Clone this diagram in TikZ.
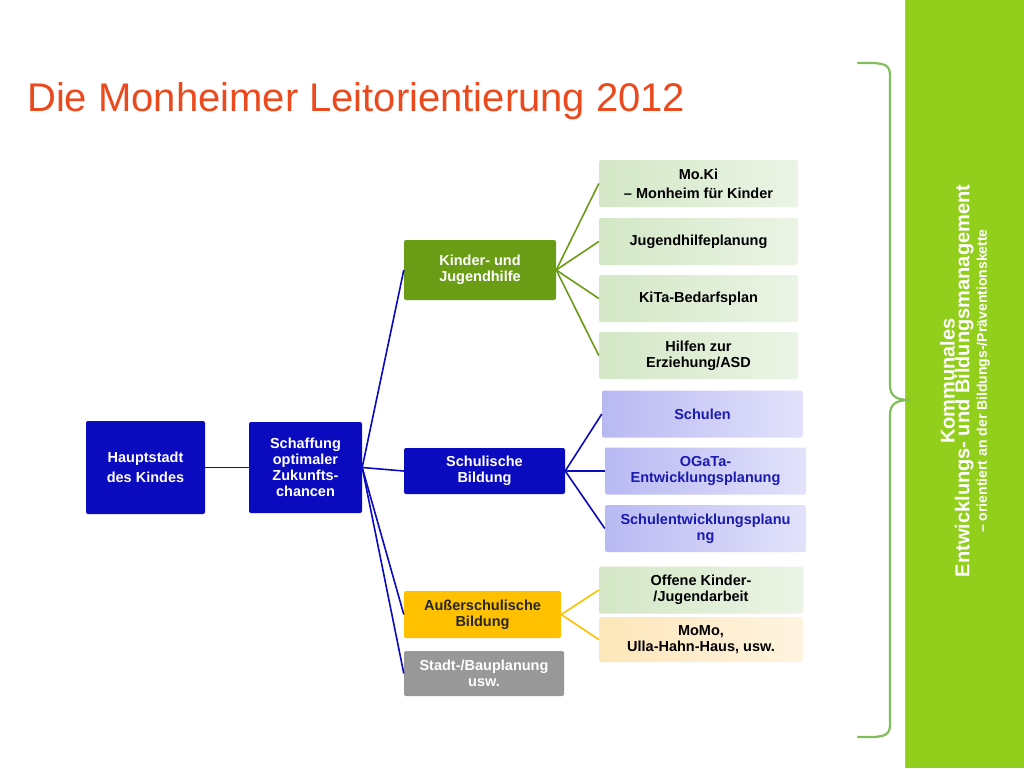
\documentclass[tikz,border=0pt]{standalone}
\usepackage{fontspec}
\setmainfont{Liberation Sans}
\begin{document}
\begin{tikzpicture}[x=1pt,y=-1pt,
  box/.style={rounded corners=2pt,align=center,font=\bfseries\fontsize{14.5}{16}\selectfont,inner sep=1pt},
  dark/.style={box,fill=dblue,text=white},
  gleaf/.style={box,left color=lgreenA,right color=lgreenB,text=black,minimum width=199pt,minimum height=47pt},
  bleaf/.style={box,left color=lblueA,right color=lblueB,text=tblue,minimum width=201pt,minimum height=47pt},
  bl/.style={draw=dblue,line width=1.6pt},
  gl/.style={draw=olive2,line width=1.6pt},
  yl/.style={draw=gold,line width=1.6pt}]
\definecolor{dblue}{HTML}{0A0ABF}
\definecolor{olive2}{HTML}{6A9C15}
\definecolor{gold}{HTML}{FFC000}
\definecolor{lgreenA}{HTML}{D3E7C6}
\definecolor{lgreenB}{HTML}{EBF4E5}
\definecolor{lblueA}{HTML}{B9B9F3}
\definecolor{lblueB}{HTML}{E2E2FB}
\definecolor{tblue}{HTML}{1A1AB0}
\definecolor{panel}{HTML}{92CE1C}
\definecolor{titlec}{HTML}{EA4A1E}
\useasboundingbox (0,0) rectangle (1024,768);
\fill[white] (0,0) rectangle (1024,768);
\fill[panel] (905,0) rectangle (1024,768);
\draw[gray!60,line width=0.6pt] (905,0) -- (905,768);
\node[anchor=west,text=titlec,font=\fontsize{40}{44}\selectfont,inner sep=0pt] (title) at (27,101) {Die Monheimer Leitorientierung 2012};
% brace
\draw[draw=green!50!gray!80!lime,color={rgb,255:red,130;green,190;blue,90},line width=2.2pt,line cap=round]
  (858,63) .. controls (880,63) and (890,62) .. (890,75) -- (890,385)
  .. controls (890,396) and (896,400) .. (910,400)
  .. controls (896,400) and (890,404) .. (890,415) -- (890,725)
  .. controls (890,738) and (880,737) .. (858,737);
\node[rotate=90,text=white,align=center,font=\bfseries,inner sep=0pt] (side) at (965,381)
  {{\fontsize{20}{25}\selectfont Kommunales}\\[-1pt]{\fontsize{20}{27}\selectfont Entwicklungs- und Bildungsmanagement}\\[2pt]{\fontsize{14}{16}\selectfont -- orientiert an der Bildungs-/Präventionskette}};
% main boxes
\node[dark,minimum width=119pt,minimum height=93pt] (haupt) at (145.5,467.5) {Hauptstadt\\[4pt]des Kindes};
\node[dark,minimum width=113pt,minimum height=91pt] (schaff) at (305.5,467.5) {Schaffung\\optimaler\\Zukunfts-\\chancen};
\node[box,fill=olive2,text=white,minimum width=152pt,minimum height=60pt] (kjh) at (480,270) {Kinder- und\\Jugendhilfe};
\node[dark,minimum width=161pt,minimum height=46pt] (schul) at (484.5,471) {Schulische\\Bildung};
\node[box,fill=gold,text=black!85,minimum width=157pt,minimum height=47pt] (aussen) at (482.5,614.5) {Außerschulische\\Bildung};
\node[box,fill=gray!85!black!70,text=white,minimum width=160pt,minimum height=45pt] (stadt) at (484,673.5) {Stadt-/Bauplanung\\usw.};
% leaves
\node[gleaf] (moki) at (698.5,183.5) {Mo.Ki\\[3pt]-- Monheim für Kinder};
\node[gleaf] (jhp) at (698.5,241.5) {Jugendhilfeplanung};
\node[gleaf] (kita) at (698.5,298.5) {KiTa-Bedarfsplan};
\node[gleaf] (hilfe) at (698.5,355.5) {Hilfen zur\\Erziehung/ASD};
\node[bleaf] (schulen) at (702.5,414) {Schulen};
\node[bleaf] (ogata) at (705.5,471) {OGaTa-\\Entwicklungsplanung};
\node[bleaf] (sep) at (705.5,528.5) {Schulentwicklungsplanu\\ng};
\node[gleaf,minimum width=204pt] (offen) at (701,590) {Offene Kinder-\\/Jugendarbeit};
\node[box,left color={rgb,255:red,253;green,230;blue,185},right color={rgb,255:red,254;green,244;blue,225},minimum width=204pt,minimum height=45pt] (momo) at (701,639.5) {MoMo,\\Ulla-Hahn-Haus, usw.};
% connectors
\draw[bl] (haupt.east) -- (schaff.east -| schaff.west);
\foreach \t in {kjh,schul,aussen,stadt} \draw[bl] (schaff.east) -- (\t.west);
\foreach \t in {moki,jhp,kita,hilfe} \draw[gl] (kjh.east) -- (\t.west);
\foreach \t in {schulen,ogata,sep} \draw[bl] (schul.east) -- (\t.west);
\foreach \t in {offen,momo} \draw[yl] (aussen.east) -- (\t.west);
\end{tikzpicture}
\end{document}
